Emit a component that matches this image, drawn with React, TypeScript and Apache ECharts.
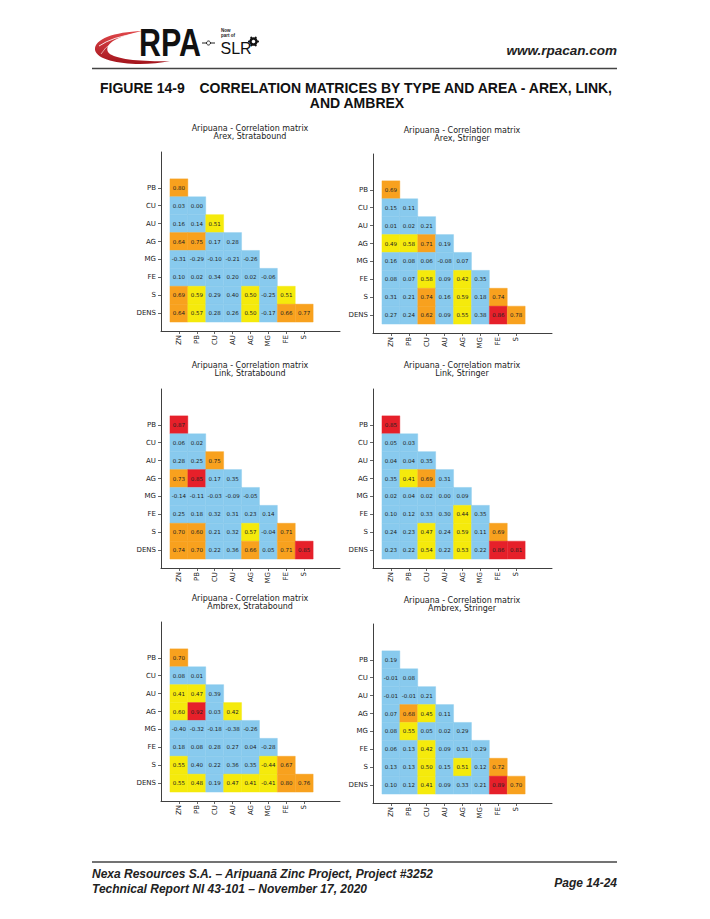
import React, { useEffect, useRef } from 'react';
import * as echarts from 'echarts';

// ---------- data ----------
const rowLabels = ['PB', 'CU', 'AU', 'AG', 'MG', 'FE', 'S', 'DENS'];
const colLabels = ['ZN', 'PB', 'CU', 'AU', 'AG', 'MG', 'FE', 'S'];
const panelTitles = [
  'Arex, Stratabound',
  'Arex, Stringer',
  'Link, Stratabound',
  'Link, Stringer',
  'Ambrex, Stratabound',
  'Ambrex, Stringer',
];

const arexStratabound = [
  [0.8],
  [0.03, 0.0],
  [0.16, 0.14, 0.51],
  [0.64, 0.75, 0.17, 0.28],
  [-0.31, -0.29, -0.1, -0.21, -0.26],
  [0.1, 0.02, 0.34, 0.2, 0.02, -0.06],
  [0.69, 0.59, 0.29, 0.4, 0.5, -0.25, 0.51],
  [0.64, 0.57, 0.28, 0.26, 0.5, -0.17, 0.66, 0.77],
];
const arexStringer = [
  [0.69],
  [0.15, 0.11],
  [0.01, 0.02, 0.21],
  [0.49, 0.58, 0.71, 0.19],
  [0.16, 0.08, 0.06, -0.08, 0.07],
  [0.08, 0.07, 0.58, 0.09, 0.42, 0.35],
  [0.31, 0.21, 0.74, 0.16, 0.59, 0.18, 0.74],
  [0.27, 0.24, 0.62, 0.09, 0.55, 0.38, 0.86, 0.78],
];
const linkStratabound = [
  [0.87],
  [0.06, 0.02],
  [0.28, 0.25, 0.75],
  [0.73, 0.85, 0.17, 0.35],
  [-0.14, -0.11, -0.03, -0.09, -0.05],
  [0.25, 0.18, 0.32, 0.31, 0.23, 0.14],
  [0.7, 0.603, 0.21, 0.32, 0.57, -0.04, 0.71],
  [0.74, 0.7, 0.22, 0.36, 0.66, 0.05, 0.71, 0.85],
];
const linkStringer = [
  [0.85],
  [0.05, 0.03],
  [0.04, 0.04, 0.35],
  [0.35, 0.41, 0.69, 0.31],
  [0.02, 0.04, 0.02, 0.0, 0.09],
  [0.1, 0.12, 0.33, 0.3, 0.44, 0.35],
  [0.24, 0.23, 0.47, 0.24, 0.59, 0.11, 0.69],
  [0.23, 0.22, 0.54, 0.22, 0.53, 0.22, 0.86, 0.81],
];
const ambrexStratabound = [
  [0.7],
  [0.08, 0.01],
  [0.41, 0.47, 0.39],
  [0.6, 0.92, 0.03, 0.42],
  [-0.4, -0.32, -0.18, -0.38, -0.26],
  [0.18, 0.08, 0.28, 0.27, 0.04, -0.28],
  [0.55, 0.4, 0.22, 0.36, 0.35, -0.44, 0.67],
  [0.55, 0.48, 0.19, 0.47, 0.41, -0.41, 0.8, 0.76],
];
const ambrexStringer = [
  [0.19],
  [-0.01, 0.08],
  [-0.01, -0.01, 0.21],
  [0.07, 0.68, 0.45, 0.11],
  [0.08, 0.55, 0.05, 0.02, 0.29],
  [0.06, 0.13, 0.42, 0.09, 0.31, 0.29],
  [0.13, 0.13, 0.5, 0.15, 0.51, 0.12, 0.72],
  [0.1, 0.12, 0.41, 0.09, 0.33, 0.21, 0.89, 0.7],
];
const matrices = [
  arexStratabound,
  arexStringer,
  linkStratabound,
  linkStringer,
  ambrexStratabound,
  ambrexStringer,
];
const tickIndex = [0, 1, 2, 3, 4, 5, 6, 7];

// ---------- layout / style ----------
const GRIDS = [
  { left: 161, top: 152 },
  { left: 373, top: 154 },
  { left: 161, top: 389 },
  { left: 373, top: 389 },
  { left: 161, top: 622 },
  { left: 373, top: 624 },
];
const GW = 179;
const GH = 179;
const MPL = 'DejaVu Sans';
const ARIAL = 'Liberation Sans';
const AX = '#404040';
const TXT = '#222';

const swooshPath =
  'M170,61 C142,67 98,64 95,50 C94,39 114,32 142,31 C119,36 104,43 108,52 C112,59 141,62 170,61 Z';

function buildOption() {
  const grid = GRIDS.map((g) => ({ left: g.left, top: g.top, width: GW, height: GH }));
  const title = GRIDS.map((g, i) => ({
    text: 'Aripuana - Correlation matrix\n' + panelTitles[i],
    left: g.left + 89,
    top: g.top - 28,
    textAlign: 'center',
    padding: 0,
    textStyle: {
      fontFamily: MPL,
      fontSize: 8,
      fontWeight: 'normal',
      color: TXT,
      lineHeight: 8.5,
    },
  }));
  const axisCommon = {
    type: 'value' as const,
    splitLine: { show: false },
    axisLine: { show: true, onZero: false, lineStyle: { color: AX, width: 1 } },
    axisTick: { show: true, length: 3, customValues: tickIndex, lineStyle: { color: AX, width: 0.8 } },
  };
  const xAxis = GRIDS.map((_, i) => ({
    ...axisCommon,
    gridIndex: i,
    min: -1,
    max: 9,
    axisLabel: {
      customValues: tickIndex,
      formatter: (v: number) => colLabels[Math.round(v)] ?? '',
      rotate: 90,
      fontFamily: MPL,
      fontSize: 7,
      color: TXT,
      margin: 4,
    },
  }));
  const yAxis = GRIDS.map((_, i) => ({
    ...axisCommon,
    gridIndex: i,
    min: -2,
    max: 8,
    inverse: true,
    axisLabel: {
      customValues: tickIndex,
      formatter: (v: number) => rowLabels[Math.round(v)] ?? '',
      fontFamily: MPL,
      fontSize: 7,
      color: TXT,
      margin: 5,
    },
  }));
  const series = matrices.map((m, i) => {
    const data: number[][] = [];
    m.forEach((row, r) => row.forEach((v, c) => data.push([c, r, v, Math.abs(v)])));
    return {
      type: 'custom',
      xAxisIndex: i,
      yAxisIndex: i,
      encode: { x: 0, y: 1 },
      clip: false,
      data,
      renderItem: (params: any, api: any) => {
        const x = api.value(0);
        const y = api.value(1);
        const p0 = api.coord([x - 0.5, y - 0.5]);
        const p1 = api.coord([x + 0.5, y + 0.5]);
        const left = Math.min(p0[0], p1[0]);
        const top = Math.min(p0[1], p1[1]);
        const w = Math.abs(p1[0] - p0[0]);
        const h = Math.abs(p1[1] - p0[1]);
        const color = api.visual('color');
        return {
          type: 'group',
          children: [
            {
              type: 'rect',
              shape: { x: left, y: top, width: w, height: h },
              style: { fill: color, stroke: color, lineWidth: 0.4 },
            },
            {
              type: 'text',
              style: {
                text: Number(api.value(2)).toFixed(2),
                x: left + w / 2,
                y: top + h / 2,
                align: 'center',
                verticalAlign: 'middle',
                fill: TXT,
                fontSize: 5.5,
                fontFamily: MPL,
              },
            },
          ],
        };
      },
    };
  });

  const graphic: any[] = [
    // logo swoosh
    {
      type: 'swoosh',
      x: 0,
      y: 0,
      style: {
        fill: {
          type: 'linear',
          x: 0,
          y: 0,
          x2: 0,
          y2: 1,
          colorStops: [
            { offset: 0, color: '#e0474a' },
            { offset: 1, color: '#a3141c' },
          ],
        },
      },
    },
    {
      type: 'bezierCurve',
      shape: { x1: 99, y1: 46, cpx1: 112, cpy1: 37, x2: 137, y2: 33.5 },
      style: { stroke: '#ffffff', lineWidth: 1, fill: 'none', opacity: 0.85 },
    },
    {
      type: 'bezierCurve',
      shape: { x1: 101, y1: 54, cpx1: 108, cpy1: 41, x2: 133, y2: 35.5 },
      style: { stroke: '#ffffff', lineWidth: 0.8, fill: 'none', opacity: 0.7 },
    },
    {
      type: 'text',
      x: 139,
      y: 42,
      scaleX: 0.78,
      style: {
        text: 'RPA',
        x: 0,
        y: 0,
        align: 'left',
        verticalAlign: 'middle',
        fill: '#111',
        fontFamily: ARIAL,
        fontWeight: 'bold',
        fontSize: 39,
      },
    },
    {
      type: 'line',
      shape: { x1: 202, y1: 43, x2: 215, y2: 43 },
      style: { stroke: '#222', lineWidth: 1 },
    },
    {
      type: 'circle',
      shape: { cx: 208.5, cy: 43, r: 2 },
      style: { fill: '#fff', stroke: '#222', lineWidth: 1 },
    },
    {
      type: 'text',
      style: { text: 'Now', x: 221, y: 30.5, fill: '#222', fontFamily: ARIAL, fontWeight: 'bold', fontSize: 4.5, verticalAlign: 'middle' },
    },
    {
      type: 'text',
      style: { text: 'part of', x: 221, y: 35.5, fill: '#222', fontFamily: ARIAL, fontWeight: 'bold', fontSize: 4.5, verticalAlign: 'middle' },
    },
    {
      type: 'text',
      style: { text: 'SLR', x: 220.5, y: 48.5, fill: '#111', fontFamily: ARIAL, fontSize: 16, verticalAlign: 'middle' },
    },
    {
      type: 'ring',
      shape: { cx: 253.5, cy: 41.5, r: 4.2, r0: 1.8 },
      style: { fill: '#111' },
    },
    ...[0, 1, 2, 3, 4, 5].map((k) => ({
      type: 'circle',
      shape: {
        cx: 253.5 + 4.4 * Math.cos((k * Math.PI) / 3),
        cy: 41.5 + 4.4 * Math.sin((k * Math.PI) / 3),
        r: 1.1,
      },
      style: { fill: '#111' },
    })),
    {
      type: 'text',
      style: {
        text: 'www.rpacan.com',
        x: 617,
        y: 50,
        align: 'right',
        verticalAlign: 'middle',
        fill: '#222',
        fontFamily: ARIAL,
        fontWeight: 'bold',
        fontStyle: 'italic',
        fontSize: 13.5,
      },
    },
    {
      type: 'line',
      shape: { x1: 92, y1: 68.5, x2: 617, y2: 68.5 },
      style: { stroke: '#444', lineWidth: 1.3 },
    },
    {
      type: 'text',
      style: {
        text: 'FIGURE 14-9',
        x: 100,
        y: 88,
        align: 'left',
        verticalAlign: 'middle',
        fill: '#111',
        fontFamily: ARIAL,
        fontWeight: 'bold',
        fontSize: 14,
      },
    },
    {
      type: 'text',
      style: {
        text: 'CORRELATION MATRICES BY TYPE AND AREA - AREX, LINK,',
        x: 612,
        y: 88,
        align: 'right',
        verticalAlign: 'middle',
        fill: '#111',
        fontFamily: ARIAL,
        fontWeight: 'bold',
        fontSize: 14,
      },
    },
    {
      type: 'text',
      style: {
        text: 'AND AMBREX',
        x: 357,
        y: 102.5,
        align: 'center',
        verticalAlign: 'middle',
        fill: '#111',
        fontFamily: ARIAL,
        fontWeight: 'bold',
        fontSize: 14,
      },
    },
    // footer
    {
      type: 'line',
      shape: { x1: 92, y1: 862, x2: 617, y2: 862 },
      style: { stroke: '#444', lineWidth: 1.3 },
    },
    {
      type: 'text',
      style: {
        text: 'Nexa Resources S.A. \u2013 Aripuan\u00e3 Zinc Project, Project #3252',
        x: 92,
        y: 874,
        verticalAlign: 'middle',
        fill: '#222',
        fontFamily: ARIAL,
        fontWeight: 'bold',
        fontStyle: 'italic',
        fontSize: 12,
      },
    },
    {
      type: 'text',
      style: {
        text: 'Technical Report NI 43-101 \u2013 November 17, 2020',
        x: 92,
        y: 889,
        verticalAlign: 'middle',
        fill: '#222',
        fontFamily: ARIAL,
        fontWeight: 'bold',
        fontStyle: 'italic',
        fontSize: 12,
      },
    },
    {
      type: 'text',
      style: {
        text: 'Page 14-24',
        x: 617,
        y: 883,
        align: 'right',
        verticalAlign: 'middle',
        fill: '#222',
        fontFamily: ARIAL,
        fontWeight: 'bold',
        fontStyle: 'italic',
        fontSize: 12,
      },
    },
  ];

  return {
    animation: false,
    backgroundColor: '#ffffff',
    title,
    grid,
    xAxis,
    yAxis,
    visualMap: {
      type: 'piecewise',
      show: false,
      dimension: 3,
      seriesIndex: [0, 1, 2, 3, 4, 5],
      pieces: [
        { lte: 0.4, color: '#88caee' },
        { gt: 0.4, lte: 0.6, color: '#f5ea0c' },
        { gt: 0.6, lte: 0.8, color: '#f8a11e' },
        { gt: 0.8, color: '#e6202a' },
      ],
    },
    series,
    graphic,
  };
}

let registered = false;
function registerShapes() {
  if (registered) return;
  registered = true;
  echarts.graphic.registerShape('swoosh', echarts.graphic.extendPath(swooshPath, {}) as any);
}

export default function App() {
  const ref = useRef<HTMLDivElement>(null);
  useEffect(() => {
    if (!ref.current) return;
    registerShapes();
    const chart = echarts.init(ref.current, undefined, { renderer: 'svg' });
    chart.setOption(buildOption() as any);
    return () => chart.dispose();
  }, []);
  return (
    <div
      ref={ref}
      style={{ position: 'absolute', left: 0, top: 0, width: 710, height: 919, background: '#fff' }}
    />
  );
}
